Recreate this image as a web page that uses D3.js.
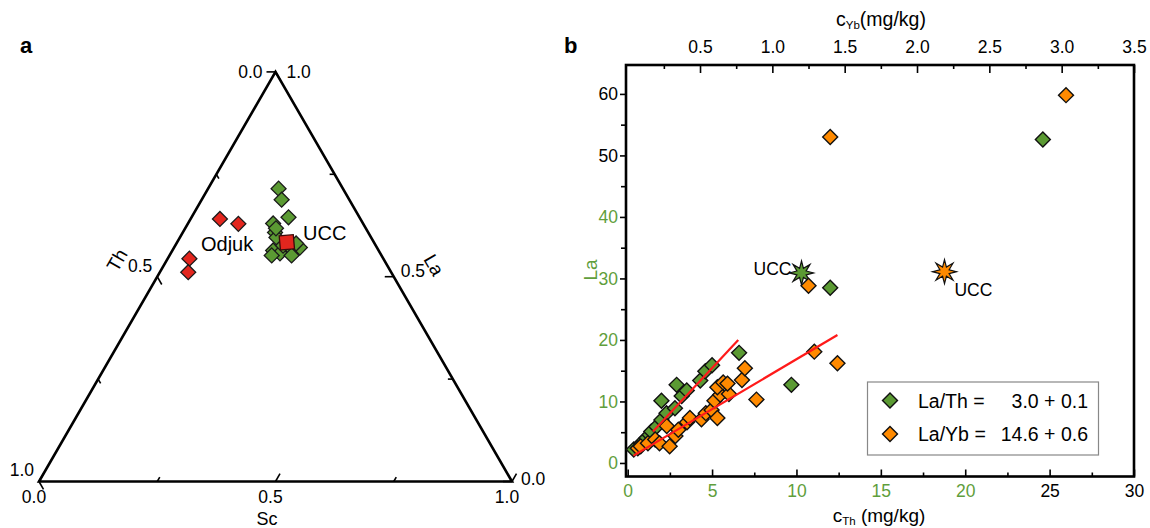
<!DOCTYPE html>
<html><head><meta charset="utf-8">
<script src="https://cdn.jsdelivr.net/npm/d3@7"></script>
<style>
body{margin:0;background:#fff}
svg{display:block;font-family:"Liberation Sans",Arial,Helvetica,sans-serif}
</style></head>
<body><svg id="c" width="1150" height="528"></svg>
<script>
// ---------------- data ----------------
// panel a (ternary, fractions)
const ternTicks = [0, 0.25, 0.5, 0.75, 1];
const ternMajor = [0, 0.5, 1];
const greenLaT = [0.715,0.688,0.645,0.630,0.608,0.596,0.564,0.557,0.564,0.571,0.552,0.552,0.576,0.581,0.618];
const greenScT = [0.149,0.169,0.205,0.180,0.195,0.204,0.213,0.231,0.255,0.266,0.258,0.216,0.228,0.253,0.192];
const odjukLaT = [0.641,0.629,0.544,0.511];
const odjukScT = [0.062,0.107,0.046,0.060];
const uccLaT = [0.584];
const uccScT = [0.232];
// panel b
const thGreen = [0.36,0.8,1.1,1.3,1.4,1.7,2.0,2.3,2.0,2.8,3.2,2.9,3.5,4.3,4.6,5.0,6.6,9.7,12.0,24.6];
const laGreen = [2.2,3.2,4.0,4.6,5.1,5.9,7.0,8.1,10.1,8.9,10.9,12.7,11.8,13.4,14.9,15.9,17.9,12.7,28.5,52.6];
const ybOrange = [0.07,0.09,0.14,0.19,0.22,0.27,0.29,0.33,0.35,0.41,0.43,0.51,0.54,0.58,0.62,0.60,0.64,0.62,0.66,0.70,0.69,0.79,0.81,0.89,1.29,1.45,1.25,1.40,3.03];
const laOrange = [2.4,2.7,3.2,3.8,3.2,6.0,2.7,4.4,5.4,6.6,7.3,7.1,8.1,8.6,7.3,10.1,11.1,12.3,13.1,11.2,12.9,13.5,15.4,10.3,18.1,16.2,28.8,53.0,59.8];
const fitThX = [1.5, 6.55], fitThY = [5.1, 20.0];
const fitYbX = [0.04, 1.45], fitYbY = [1.2, 20.8];
const uccThPoint = [10.3, 30.9];
const uccYbPoint = [2.19, 31.1];
const thTicks = [0,5,10,15,20,25,30];
const thMinor = [2.5,7.5,12.5,17.5,22.5,27.5];
const ybTicks = [0.5,1.0,1.5,2.0,2.5,3.0,3.5];
const ybMinor = [0.25,0.75,1.25,1.75,2.25,2.75,3.25];
const laTicks = [0,10,20,30,40,50,60];
const laMinor = [5,15,25,35,45,55];
const legendRows = [["La/Th =", "3.0 + 0.1"], ["La/Yb =", "14.6 + 0.6"]];

// ---------------- style ----------------
const GREEN = "#5b9a33", GREEN_TXT = "#5f9e3c", ORANGE = "#ff8a00", RED = "#e3261e", LINE = "#ff1a1a";
const TICKFS = 17.5;
const svg = d3.select("#c");

// ---------------- panel a ----------------
const aX = d3.scaleLinear([0,1],[39,512]);     // applied to sc + la/2
const aY = d3.scaleLinear([0,1],[481.5,71.9]); // applied to la
const P = (la, sc) => [aX(sc + la/2), aY(la)];
const gA = svg.append("g");
gA.append("text").attr("x",20).attr("y",53).attr("font-size",22).attr("font-weight","bold").text("a");
const tri = [P(0,0), P(0,1), P(1,0)];
gA.append("path").attr("d", d3.line()(tri) + "Z").attr("fill","none").attr("stroke","#000").attr("stroke-width",2.6).attr("stroke-linejoin","miter");
const c60 = 0.5, s60 = Math.sqrt(3)/2;
const axesDef = [
  {pt: t => P(0, t), dir: [c60, -s60]},          // Sc bottom
  {pt: t => P(1 - t, 0), dir: [c60, s60]},       // Th left
  {pt: t => P(t, 1 - t), dir: [-1, 0]}           // La right
];
axesDef.forEach(ax => {
  ternTicks.forEach(t => {
    const p = ax.pt(t), L = ternMajor.includes(t) ? 9 : 5;
    gA.append("line").attr("x1",p[0]).attr("y1",p[1]).attr("x2",p[0]+ax.dir[0]*L).attr("y2",p[1]+ax.dir[1]*L)
      .attr("stroke","#000").attr("stroke-width",1.6);
  });
});
const fmt1 = d3.format(".1f");
ternMajor.forEach(t => { const p = P(0,t);
  gA.append("text").attr("x",p[0]-5).attr("y",503).attr("text-anchor","middle").attr("font-size",TICKFS).text(fmt1(t)); });
const thOff = {1:[-5,-6], 0.5:[-5,-5], 0:[-13,6]};
ternMajor.forEach(t => { const p = P(1-t,0);
  gA.append("text").attr("x",p[0]+thOff[t][0]).attr("y",p[1]+thOff[t][1]).attr("text-anchor","end").attr("font-size",TICKFS).text(fmt1(t)); });
const laOff = {1:[11,6], 0.5:[7,0], 0:[9,3]};
ternMajor.forEach(t => { const p = P(t,1-t);
  gA.append("text").attr("x",p[0]+laOff[t][0]).attr("y",p[1]+laOff[t][1]).attr("text-anchor","start").attr("font-size",TICKFS).text(fmt1(t)); });
gA.append("text").attr("transform","translate(117,260) rotate(-60)").attr("text-anchor","middle").attr("font-size",19).attr("dy","0.35em").text("Th");
gA.append("text").attr("transform","translate(434,265) rotate(60)").attr("text-anchor","middle").attr("font-size",19).attr("dy","0.35em").text("La");
gA.append("text").attr("x",267).attr("y",525).attr("text-anchor","middle").attr("font-size",18).text("Sc");

const sq = d3.symbol(d3.symbolSquare, 112);
greenLaT.forEach((la,i) => { const p = P(la, greenScT[i]);
  gA.append("path").attr("d",sq()).attr("transform",`translate(${p[0]},${p[1]}) rotate(45)`)
    .attr("fill",GREEN).attr("stroke","#1a1a1a").attr("stroke-width",1.3); });
odjukLaT.forEach((la,i) => { const p = P(la, odjukScT[i]);
  gA.append("path").attr("d",sq()).attr("transform",`translate(${p[0]},${p[1]}) rotate(45)`)
    .attr("fill",RED).attr("stroke","#1a1a1a").attr("stroke-width",1.3); });
uccLaT.forEach((la,i) => { const p = P(la, uccScT[i]);
  gA.append("path").attr("d",d3.symbol(d3.symbolSquare,200)()).attr("transform",`translate(${p[0]},${p[1]}) rotate(-5)`)
    .attr("fill",RED).attr("stroke","#3a0a0a").attr("stroke-width",1.3); });
gA.append("text").attr("x",201).attr("y",251).attr("font-size",20).text("Odjuk");
gA.append("text").attr("x",303).attr("y",240).attr("font-size",20).text("UCC");

// ---------------- panel b ----------------
const L = 626, R = 1134, T = 65, B = 476.5;
const xTh = d3.scaleLinear([-0.1, 30], [L, R]);
const xYb = d3.scaleLinear([-0.1*3.5/30, 3.5], [L, R]);
const y = d3.scaleLinear([-2.2, 64.7], [B, T]);
const gB = svg.append("g");
gB.append("text").attr("x",564).attr("y",53).attr("font-size",22).attr("font-weight","bold").text("b");

function styleAxis(g, colorFn){
  g.select(".domain").remove();
  g.selectAll(".tick line").attr("stroke","#000").attr("stroke-width",1.6);
  g.selectAll(".tick text").attr("font-size",TICKFS).attr("font-family","Liberation Sans, Arial, sans-serif")
    .attr("fill", d => colorFn ? colorFn(d) : "#000");
}
styleAxis(gB.append("g").attr("transform",`translate(0,${B})`)
  .call(d3.axisBottom(xTh).tickValues(thTicks).tickSize(-7).tickPadding(8).tickFormat(d3.format("d"))),
  d => d <= 20 ? GREEN_TXT : "#000");
styleAxis(gB.append("g").attr("transform",`translate(0,${B})`)
  .call(d3.axisBottom(xTh).tickValues(thMinor).tickSize(-4).tickFormat("")));
styleAxis(gB.append("g").attr("transform",`translate(0,${T})`)
  .call(d3.axisTop(xYb).tickValues(ybTicks).tickSize(-8).tickPadding(12).tickFormat(d3.format(".1f"))));
styleAxis(gB.append("g").attr("transform",`translate(0,${T})`)
  .call(d3.axisTop(xYb).tickValues(ybMinor).tickSize(-4).tickFormat("")));
styleAxis(gB.append("g").attr("transform",`translate(${L},0)`)
  .call(d3.axisLeft(y).tickValues(laTicks).tickSize(6).tickPadding(2).tickFormat(d3.format("d"))),
  d => d <= 40 ? GREEN_TXT : "#000");
styleAxis(gB.append("g").attr("transform",`translate(${L},0)`)
  .call(d3.axisLeft(y).tickValues(laMinor).tickSize(5).tickFormat("")));
gB.append("rect").attr("x",L).attr("y",T).attr("width",R-L).attr("height",B-T)
  .attr("fill","none").attr("stroke","#000").attr("stroke-width",2.6);

const tt = gB.append("text").attr("x",881).attr("y",26).attr("text-anchor","middle").attr("font-size",19.5);
tt.append("tspan").text("c");
tt.append("tspan").attr("font-size",11.5).attr("dy",3).text("Yb");
tt.append("tspan").attr("dy",-3).text("(mg/kg)");
const bt = gB.append("text").attr("x",879).attr("y",522).attr("text-anchor","middle").attr("font-size",19);
bt.append("tspan").text("c");
bt.append("tspan").attr("font-size",11.5).attr("dy",3).text("Th");
bt.append("tspan").attr("dy",-3).text(" (mg/kg)");
gB.append("text").attr("transform","translate(590,270) rotate(-90)").attr("text-anchor","middle")
  .attr("dy","0.35em").attr("font-size",19).attr("fill",GREEN_TXT).text("La");

function starPath(ro, ri, n){
  const pts = d3.range(2*n).map(i => { const r = i%2 ? ri : ro, a = Math.PI*i/n - Math.PI/2; return [r*Math.cos(a), r*Math.sin(a)]; });
  return d3.line()(pts) + "Z";
}
const dia = d3.symbol(d3.symbolSquare, 112);
const gPts = gB.append("g");
thGreen.forEach((v,i) => gPts.append("path").attr("d",dia())
  .attr("transform",`translate(${xTh(v)},${y(laGreen[i])}) rotate(45)`)
  .attr("fill",GREEN).attr("stroke","#111").attr("stroke-width",1.4));
gPts.append("path").attr("d",starPath(12,5,8)).attr("transform",`translate(${xTh(uccThPoint[0])},${y(uccThPoint[1])})`)
  .attr("fill",GREEN).attr("stroke","#111").attr("stroke-width",1.2);
gPts.append("path").attr("d",starPath(12,5,8)).attr("transform",`translate(${xYb(uccYbPoint[0])},${y(uccYbPoint[1])})`)
  .attr("fill",ORANGE).attr("stroke","#111").attr("stroke-width",1.2);
ybOrange.forEach((v,i) => gPts.append("path").attr("d",dia())
  .attr("transform",`translate(${xYb(v)},${y(laOrange[i])}) rotate(45)`)
  .attr("fill",ORANGE).attr("stroke","#111").attr("stroke-width",1.4));
gB.append("line").attr("x1",xTh(fitThX[0])).attr("y1",y(fitThY[0])).attr("x2",xTh(fitThX[1])).attr("y2",y(fitThY[1]))
  .attr("stroke",LINE).attr("stroke-width",2.2);
gB.append("line").attr("x1",xYb(fitYbX[0])).attr("y1",y(fitYbY[0])).attr("x2",xYb(fitYbX[1])).attr("y2",y(fitYbY[1]))
  .attr("stroke",LINE).attr("stroke-width",2.2);
gB.append("text").attr("x",xTh(uccThPoint[0])-10).attr("y",y(uccThPoint[1])+2).attr("text-anchor","end").attr("font-size",17.5).text("UCC");
gB.append("text").attr("x",xYb(uccYbPoint[0])+10).attr("y",y(uccYbPoint[1])+24).attr("text-anchor","start").attr("font-size",17.5).text("UCC");

const lg = gB.append("g");
lg.append("rect").attr("x",867.5).attr("y",382).attr("width",231).attr("height",73)
  .attr("fill","#fff").attr("stroke","#888").attr("stroke-width",1.2);
[GREEN, ORANGE].forEach((c,i) => {
  const yy = 400.5 + i*33.5;
  lg.append("path").attr("d",dia()).attr("transform",`translate(890,${yy}) rotate(45)`)
    .attr("fill",c).attr("stroke","#111").attr("stroke-width",1.4);
  lg.append("text").attr("x",918).attr("y",yy+7).attr("font-size",19.5).text(legendRows[i][0]);
  lg.append("text").attr("x",1088).attr("y",yy+7).attr("text-anchor","end").attr("font-size",19.5).text(legendRows[i][1]);
});
</script></body></html>
